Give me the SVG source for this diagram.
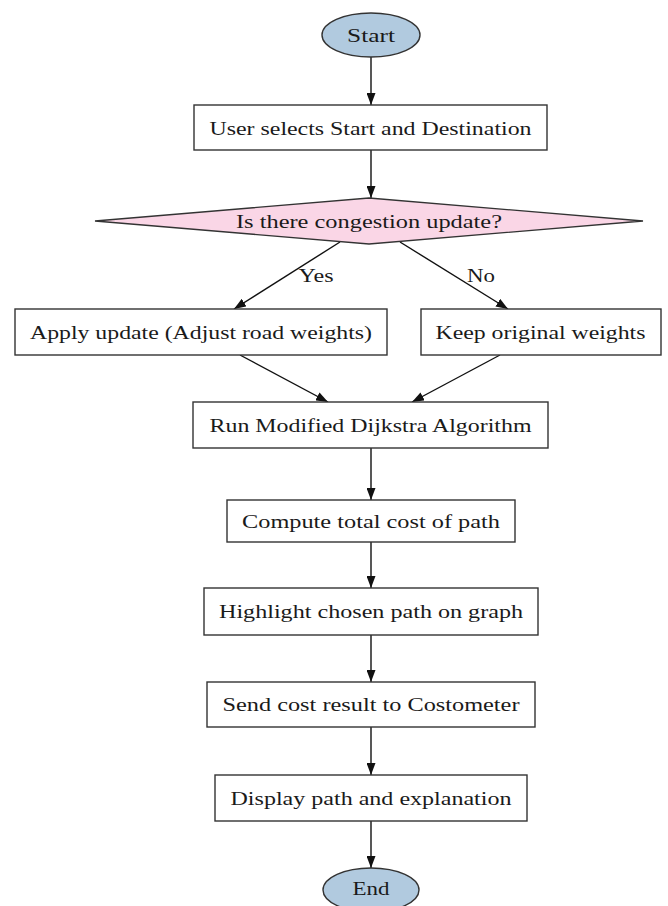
<svg xmlns="http://www.w3.org/2000/svg" width="668" height="906" viewBox="0 0 668 906">
<style>
.box{fill:#fff;stroke:#333;stroke-width:1.4}
.term{fill:#b1cadf;stroke:#333;stroke-width:1.4}
.dec{fill:#fad6e6;stroke:#333;stroke-width:1.4}
.lbl{font-family:"Liberation Serif","Times New Roman",serif;font-size:19.5px;fill:#1a1a1a;text-anchor:middle;dominant-baseline:central}
.edge{stroke:#111;stroke-width:1.4;fill:none;marker-end:url(#ah)}
</style>
<defs>
<marker id="ah" viewBox="0 0 12 9" refX="12" refY="4.5" markerWidth="12" markerHeight="9" markerUnits="userSpaceOnUse" orient="auto">
<path d="M0,0 L12,4.5 L0,9 Z" fill="#111"/>
</marker>
</defs>
<rect width="668" height="906" fill="#fff"/>
<g id="connectors">
<line class="edge" x1="371" y1="57" x2="371" y2="105"/>
<line class="edge" x1="371" y1="150" x2="371" y2="198"/>
<line class="edge" x1="340" y1="242" x2="234" y2="309"/>
<line class="edge" x1="400" y1="242" x2="508" y2="309"/>
<line class="edge" x1="240" y1="355" x2="328" y2="402"/>
<line class="edge" x1="500" y1="355" x2="412" y2="402"/>
<line class="edge" x1="371" y1="448" x2="371" y2="500"/>
<line class="edge" x1="371" y1="542" x2="371" y2="588"/>
<line class="edge" x1="371" y1="635" x2="371" y2="682"/>
<line class="edge" x1="371" y1="727" x2="371" y2="775"/>
<line class="edge" x1="371" y1="821" x2="371" y2="868"/>
<text class="lbl" x="316" y="275" textLength="35" lengthAdjust="spacingAndGlyphs">Yes</text>
<text class="lbl" x="481" y="275" textLength="28" lengthAdjust="spacingAndGlyphs">No</text>
</g>
<g id="start">
<ellipse class="term" cx="371" cy="35" rx="49" ry="22"/>
<text class="lbl" x="371" y="35" textLength="48" lengthAdjust="spacingAndGlyphs">Start</text>
</g>
<g id="select">
<rect class="box" x="194" y="105" width="353" height="45"/>
<text class="lbl" x="370.5" y="128" textLength="322" lengthAdjust="spacingAndGlyphs">User selects Start and Destination</text>
</g>
<g id="decision">
<polygon class="dec" points="369,198 643,221 369,244 95,221"/>
<text class="lbl" x="369" y="221" textLength="266" lengthAdjust="spacingAndGlyphs">Is there congestion update?</text>
</g>
<g id="apply">
<rect class="box" x="15" y="309" width="372" height="46"/>
<text class="lbl" x="201" y="332" textLength="342" lengthAdjust="spacingAndGlyphs">Apply update (Adjust road weights)</text>
</g>
<g id="keep">
<rect class="box" x="421" y="309" width="240" height="46"/>
<text class="lbl" x="540.5" y="332" textLength="210" lengthAdjust="spacingAndGlyphs">Keep original weights</text>
</g>
<g id="dijkstra">
<rect class="box" x="193" y="402" width="355" height="46"/>
<text class="lbl" x="370.5" y="425" textLength="322" lengthAdjust="spacingAndGlyphs">Run Modified Dijkstra Algorithm</text>
</g>
<g id="compute">
<rect class="box" x="227" y="500" width="288" height="42"/>
<text class="lbl" x="371" y="521" textLength="258" lengthAdjust="spacingAndGlyphs">Compute total cost of path</text>
</g>
<g id="highlight">
<rect class="box" x="204" y="588" width="334" height="47"/>
<text class="lbl" x="371" y="611" textLength="304" lengthAdjust="spacingAndGlyphs">Highlight chosen path on graph</text>
</g>
<g id="send">
<rect class="box" x="207" y="682" width="328" height="45"/>
<text class="lbl" x="371" y="704" textLength="297" lengthAdjust="spacingAndGlyphs">Send cost result to Costometer</text>
</g>
<g id="display">
<rect class="box" x="215" y="775" width="312" height="46"/>
<text class="lbl" x="371" y="798" textLength="281" lengthAdjust="spacingAndGlyphs">Display path and explanation</text>
</g>
<g id="end">
<ellipse class="term" cx="371" cy="890" rx="48" ry="22"/>
<text class="lbl" x="371" y="888" textLength="37" lengthAdjust="spacingAndGlyphs">End</text>
</g>
</svg>
